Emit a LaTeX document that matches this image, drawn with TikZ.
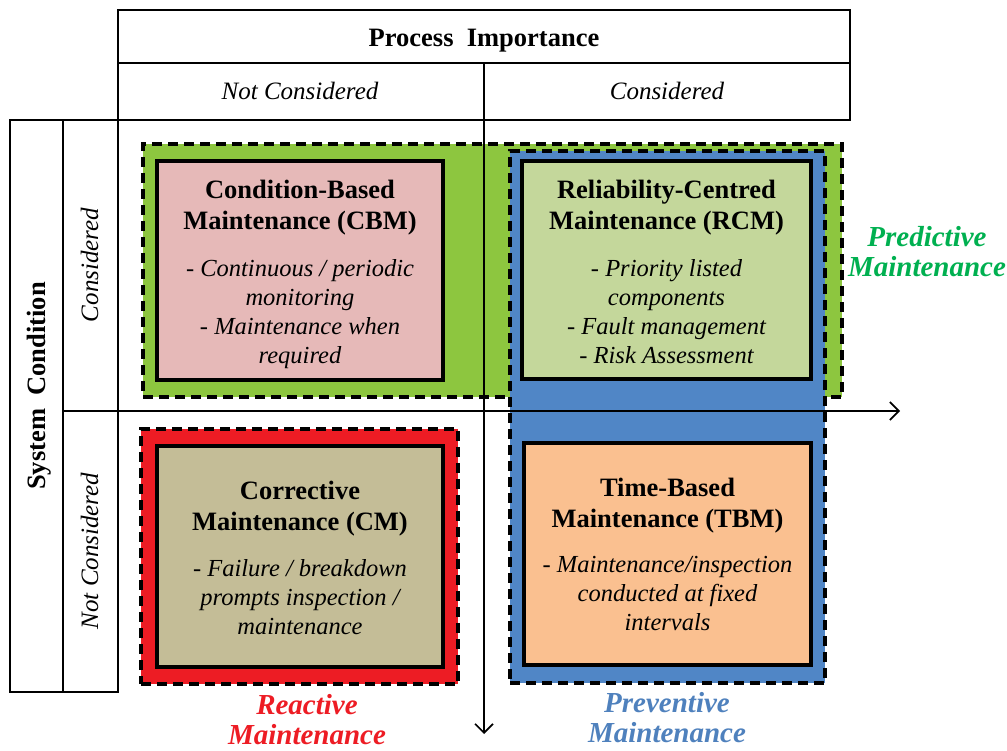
\documentclass[tikz,border=0pt]{standalone}
\usepackage{fontspec}
\setmainfont{Liberation Serif}
\usetikzlibrary{arrows.meta}

\definecolor{predGreen}{RGB}{141,198,63}
\definecolor{prevBlue}{RGB}{80,134,198}
\definecolor{reactRed}{RGB}{237,28,36}
\definecolor{cbmFill}{RGB}{230,185,184}
\definecolor{rcmFill}{RGB}{196,215,155}
\definecolor{cmFill}{RGB}{196,189,151}
\definecolor{tbmFill}{RGB}{250,192,144}
\definecolor{predText}{RGB}{0,176,80}
\definecolor{prevText}{RGB}{79,129,189}

\begin{document}
\begin{tikzpicture}[x=1pt,y=-1pt,
  gridline/.style={draw=black, line width=2pt},
  region/.style={draw=black, line width=3.5pt, dash pattern=on 10pt off 6pt,
                 rectangle, inner sep=0pt},
  card/.style={draw=black, line width=4pt, rectangle, inner sep=0pt},
  title/.style={font=\fontsize{26.5}{31}\selectfont\bfseries, align=center,
                inner sep=0pt, anchor=north},
  bullets/.style={font=\fontsize{24.5}{29}\selectfont\itshape, align=center,
                  inner sep=0pt, anchor=north},
  head/.style={font=\fontsize{26.5}{31}\selectfont\bfseries, inner sep=0pt, anchor=base},
  subhead/.style={font=\fontsize{25}{30}\selectfont\itshape, inner sep=0pt, anchor=base},
  tag/.style={font=\fontsize{29}{30.5}\selectfont\bfseries\itshape, align=center,
              inner sep=0pt, anchor=north},
  axis/.style={line width=1.6pt, -{Straight Barb[length=9pt,width=18pt,line width=1.6pt]}}
]
\useasboundingbox (0,0) rectangle (1007,751);

% header tables
\draw[gridline] (118,10) rectangle (850,120);
\draw[gridline] (118,63) -- (850,63);
\draw[gridline] (10,120) rectangle (118,692);
\draw[gridline] (63,120) -- (63,692);

\node[head] (pi) at (484,47) {Process\ \ Importance};
\node[subhead] (pinc) at (300,100) {Not Considered};
\node[subhead] (pic) at (667,100) {Considered};

\node[head, rotate=90] (sc) at (45,386) {System\ \ Condition};
\node[subhead, rotate=90] (scc) at (98,265) {Considered};
\node[subhead, rotate=90] (scnc) at (98,551) {Not Considered};

% maintenance strategy regions
\node[region, fill=predGreen, minimum width=699pt, minimum height=253pt]
  (predictive) at (492.5,270.5) {};
\node[region, fill=prevBlue, minimum width=315pt, minimum height=532pt]
  (preventive) at (667.5,417) {};
\node[region, fill=reactRed, minimum width=317pt, minimum height=255pt]
  (reactive) at (299.5,556.5) {};

% axes
\coordinate (hstart) at (63,411);
\coordinate (hend) at (900,411);
\coordinate (vstart) at (484,63);
\coordinate (vend) at (484,734);
\draw[axis] (hstart) -- (hend);
\draw[axis] (vstart) -- (vend);

% strategy cards
\node[card, fill=cbmFill, minimum width=286pt, minimum height=219pt] (cbm) at (300,270.5) {};
\node[card, fill=rcmFill, minimum width=289pt, minimum height=218pt] (rcm) at (666.5,270) {};
\node[card, fill=cmFill, minimum width=286pt, minimum height=221pt] (cm) at (300,556.5) {};
\node[card, fill=tbmFill, minimum width=287pt, minimum height=222pt] (tbm) at (667.5,554) {};

\node[title] (cbmT) at (300,180) {Condition-Based\\Maintenance (CBM)};
\node[bullets] (cbmB) at (300,259) {- Continuous / periodic\\monitoring\\- Maintenance when\\required};

\node[title] (rcmT) at (666.5,180) {Reliability-Centred\\Maintenance (RCM)};
\node[bullets] (rcmB) at (666.5,259) {- Priority listed\\components\\- Fault management\\- Risk Assessment};

\node[title] (cmT) at (300,481) {Corrective\\Maintenance (CM)};
\node[bullets] (cmB) at (300,559) {- Failure / breakdown\\prompts inspection /\\maintenance};

\node[title] (tbmT) at (667.5,478) {Time-Based\\Maintenance (TBM)};
\node[bullets] (tbmB) at (667.5,556) {- Maintenance/inspection\\conducted at fixed\\intervals};

% region labels
\node[tag, text=predText] (predL) at (927,226) {Predictive\\Maintenance};
\node[tag, text=reactRed] (reactL) at (307,694) {Reactive\\Maintenance};
\node[tag, text=prevText] (prevL) at (667,692) {Preventive\\Maintenance};
\end{tikzpicture}
\end{document}
